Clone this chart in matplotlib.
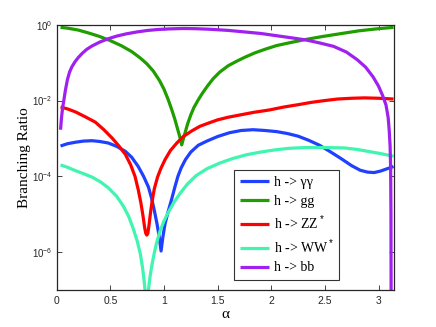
import matplotlib
matplotlib.use("Agg")
import matplotlib.pyplot as plt
import numpy as np

# Values: mixing angle alpha and log10 of the branching ratio
gg_alpha = [0.036, 0.10, 0.20, 0.30, 0.40, 0.50, 0.60, 0.70, 0.78, 0.84, 0.90, 0.96, 1.00, 1.04,
            1.07, 1.10, 1.13, 1.15, 1.165, 1.18, 1.20, 1.22, 1.25, 1.28, 1.32, 1.36, 1.41, 1.46,
            1.52, 1.60, 1.68, 1.76, 1.85, 1.95, 2.05, 2.18, 2.32, 2.48, 2.66, 2.82, 2.98, 3.14]
gg_log = [-0.07, -0.09, -0.14, -0.22, -0.31, -0.42, -0.55, -0.71, -0.88, -1.03, -1.22, -1.48, -1.70, -1.98,
          -2.22, -2.48, -2.78, -2.98, -3.17, -3.02, -2.82, -2.62, -2.38, -2.18, -1.98, -1.80, -1.60, -1.42,
          -1.25, -1.08, -0.96, -0.85, -0.74, -0.64, -0.55, -0.47, -0.39, -0.31, -0.23, -0.16, -0.11, -0.07]

bb_alpha = [0.036, 0.045, 0.055, 0.067, 0.08, 0.10, 0.12, 0.14, 0.17, 0.20, 0.24, 0.28, 0.33, 0.40,
            0.48, 0.56, 0.65, 0.75, 0.85, 0.95, 1.05, 1.18, 1.30, 1.43, 1.60, 1.75, 1.90, 2.05, 2.20,
            2.32, 2.45, 2.58, 2.70, 2.80, 2.88, 2.95, 3.00, 3.04, 3.07, 3.09, 3.10, 3.108, 3.113,
            3.116, 3.118]
bb_log = [-2.77, -2.45, -2.20, -1.99, -1.75, -1.45, -1.25, -1.12, -0.98, -0.87, -0.75, -0.65, -0.56, -0.46,
          -0.37, -0.30, -0.24, -0.19, -0.15, -0.125, -0.11, -0.10, -0.105, -0.12, -0.15, -0.19, -0.23, -0.29,
          -0.35, -0.40, -0.48, -0.57, -0.72, -0.92, -1.12, -1.38, -1.62, -1.88, -2.12, -2.45, -2.80, -3.20,
          -3.80, -5.0, -8.0]

zz_alpha = [0.036, 0.10, 0.175, 0.26, 0.36, 0.44, 0.52, 0.58, 0.64, 0.69, 0.73, 0.76, 0.785, 0.805,
            0.82, 0.83, 0.84, 0.85, 0.86, 0.875, 0.89, 0.91, 0.94, 0.97, 1.01, 1.06, 1.12, 1.18, 1.26,
            1.335, 1.42, 1.50, 1.60, 1.71, 1.84, 1.98, 2.12, 2.25, 2.37, 2.50, 2.62, 2.75, 2.87, 3.00, 3.14]
zz_log = [-2.17, -2.22, -2.30, -2.42, -2.57, -2.77, -3.00, -3.20, -3.42, -3.70, -4.00, -4.35, -4.70, -5.05,
          -5.35, -5.50, -5.55, -5.50, -5.30, -4.95, -4.65, -4.33, -4.02, -3.80, -3.56, -3.32, -3.12, -2.95,
          -2.80, -2.68, -2.59, -2.51, -2.44, -2.38, -2.31, -2.25, -2.17, -2.11, -2.05, -2.00, -1.96, -1.94,
          -1.93, -1.94, -1.96]

aa_alpha = [0.036, 0.10, 0.175, 0.25, 0.33, 0.40, 0.48, 0.56, 0.64, 0.70, 0.76, 0.81, 0.855, 0.885,
            0.91, 0.935, 0.955, 0.973, 0.99, 1.01, 1.04, 1.07, 1.10, 1.13, 1.16, 1.20, 1.25, 1.32, 1.40,
            1.50, 1.61, 1.72, 1.83, 1.94, 2.05, 2.15, 2.25, 2.35, 2.45, 2.55, 2.65, 2.75, 2.83, 2.90,
            2.96, 3.02, 3.08, 3.14]
aa_log = [-3.20, -3.14, -3.10, -3.07, -3.06, -3.08, -3.12, -3.21, -3.34, -3.50, -3.74, -4.00, -4.28, -4.58,
          -4.90, -5.25, -5.58, -5.97, -5.60, -5.25, -4.92, -4.62, -4.30, -4.00, -3.78, -3.56, -3.36, -3.18,
          -3.07, -2.95, -2.85, -2.79, -2.77, -2.79, -2.82, -2.87, -2.94, -3.05, -3.18, -3.35, -3.53, -3.72,
          -3.84, -3.89, -3.90, -3.86, -3.80, -3.74]

ww_alpha = [0.036, 0.10, 0.175, 0.25, 0.33, 0.41, 0.48, 0.56, 0.62, 0.67, 0.71, 0.75, 0.78, 0.80,
            0.815, 0.83, 0.84, 0.855, 0.87, 0.887, 0.91, 0.93, 0.96, 1.00, 1.04, 1.09, 1.15, 1.22, 1.30,
            1.40, 1.52, 1.64, 1.77, 1.90, 2.04, 2.17, 2.32, 2.49, 2.68, 2.80, 2.90, 3.02, 3.14]
ww_log = [-3.70, -3.76, -3.85, -3.93, -4.02, -4.15, -4.30, -4.53, -4.78, -5.05, -5.35, -5.70, -6.05, -6.40,
          -6.75, -7.20, -8.00, -7.00, -6.65, -6.35, -6.02, -5.77, -5.47, -5.18, -4.95, -4.70, -4.45, -4.20,
          -3.98, -3.80, -3.65, -3.53, -3.43, -3.36, -3.30, -3.26, -3.24, -3.24, -3.25, -3.29, -3.34, -3.40,
          -3.47]

series = [
    ("h -> \u03b3\u03b3", aa_alpha, aa_log, "#2040ff"),
    ("h -> gg", gg_alpha, gg_log, "#1f9e00"),
    ("h -> ZZ$^*$", zz_alpha, zz_log, "#ff0000"),
    ("h -> WW$^*$", ww_alpha, ww_log, "#40f5b0"),
    ("h -> bb", bb_alpha, bb_log, "#a020f0"),
]

plt.rcParams["mathtext.fontset"] = "custom"
plt.rcParams["mathtext.rm"] = "Liberation Sans"
plt.rcParams["mathtext.it"] = "Liberation Sans:italic"

fig = plt.figure(figsize=(4.36, 3.27), dpi=100)
ax = fig.add_axes([0.13, 0.113, 0.773, 0.8114])

for label, a, logbr, color in series:
    ax.plot(a, 10.0 ** np.array(logbr), color=color, lw=2.3, label=label,
            solid_joinstyle="round", solid_capstyle="butt")

ax.set_yscale("log")
ax.set_xlim(0, np.pi)
ax.set_ylim(1e-7, 1)

ax.set_xticks([0, 0.5, 1, 1.5, 2, 2.5, 3])
ax.set_xticklabels(["0", "0.5", "1", "1.5", "2", "2.5", "3"], family="Liberation Sans", fontsize=7.5)
ax.set_yticks([1e-6, 1e-4, 1e-2, 1])
ax.set_yticklabels(["$10^{-6}$", "$10^{-4}$", "$10^{-2}$", "$10^{0}$"], fontsize=7)
ax.minorticks_off()
ax.tick_params(direction="in", top=True, right=True, length=3.5, width=0.6, colors="#262626", pad=3)
ax.tick_params(axis="x", pad=4)
for sp in ax.spines.values():
    sp.set_linewidth(0.9)
    sp.set_color("#262626")

ax.set_xlabel("\u03b1", family="Liberation Serif", fontsize=11, labelpad=2)
ax.set_ylabel("Branching Ratio", family="Liberation Serif", fontsize=11, labelpad=1)

leg = ax.legend(loc="lower right", bbox_to_anchor=(0.838, 0.038), borderaxespad=0,
                prop={"family": "Liberation Serif", "size": 10}, frameon=True, fancybox=False,
                handlelength=2.1, handletextpad=0.35, labelspacing=0.4, borderpad=0.4)
leg.get_frame().set_edgecolor("black")
leg.get_frame().set_linewidth(0.8)

fig.savefig("out.png", dpi=100)
